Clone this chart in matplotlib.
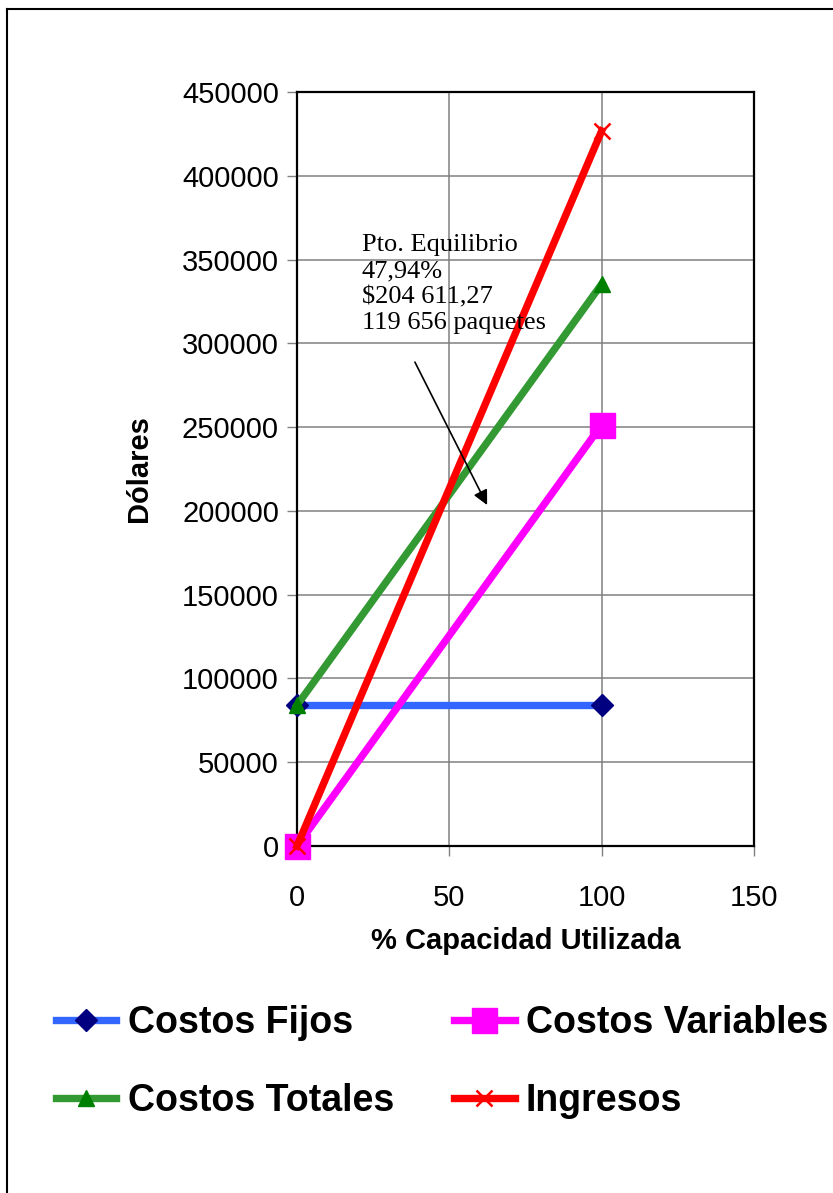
import numpy as np
import matplotlib
matplotlib.use("Agg")
import matplotlib.pyplot as plt
from matplotlib.lines import Line2D

plt.rcParams['font.family'] = ['Liberation Sans', 'DejaVu Sans']

# datos del punto de equilibrio
capacidad = [0, 100]
costos_fijos = [84000, 84000]
costos_variables = [0, 251400]
costos_totales = [84000, 335400]
ingresos = [0, 426807]

x_ticks = [0, 50, 100, 150]
y_ticks = [0, 50000, 100000, 150000, 200000, 250000, 300000, 350000, 400000, 450000]

texto_eq = "Pto. Equilibrio\n47,94%\n$204 611,27\n119 656 paquetes"

fig = plt.figure(figsize=(8.33, 11.93), dpi=100)
ax = fig.add_axes([297 / 833, 347 / 1193, 457 / 833, 754 / 1193])

lw = 5.3
ax.plot(capacidad, costos_fijos, color='#3366FF', lw=lw, marker='D', ms=11,
        mfc='#000080', mec='#000080', label='Costos Fijos', clip_on=False, zorder=3)
ax.plot(capacidad, costos_variables, color='#FF00FF', lw=lw, marker='s', ms=18,
        mfc='#FF00FF', mec='#FF00FF', label='Costos Variables', clip_on=False, zorder=4)
ax.plot(capacidad, costos_totales, color='#339933', lw=lw, marker='^', ms=11,
        mfc='#008000', mec='#008000', label='Costos Totales', clip_on=False, zorder=5)
ax.plot(capacidad, ingresos, color='#FF0000', lw=lw, marker='x', ms=11, mew=1.8,
        mec='#FF0000', label='Ingresos', clip_on=False, zorder=6)

ax.set_xlim(0, 150)
ax.set_ylim(0, 450000)
ax.set_xticks(x_ticks)
ax.set_yticks(y_ticks)
ax.grid(True, color='#808080', lw=1.1)
ax.set_axisbelow(True)
for s in ax.spines.values():
    s.set_color('black')
    s.set_linewidth(1.6)
ax.tick_params(axis='both', labelsize=21, length=7, width=1, color='#808080', direction='out')
ax.tick_params(axis='x', pad=20)
ax.tick_params(axis='y', pad=6)

ax.set_xlabel('% Capacidad Utilizada', fontsize=21, fontweight='bold', labelpad=11)
ax.set_ylabel('Dólares', fontsize=21, fontweight='bold', labelpad=21)

# anotación del punto de equilibrio
ax.text(21.3, 365000, texto_eq, fontsize=19, family=['Liberation Serif'],
        va='top', ha='left', linespacing=1.22, zorder=7)
ax.annotate('', xy=(62.4, 203500), xytext=(38.7, 288800),
            arrowprops=dict(arrowstyle='-|>', color='black', lw=1.2, mutation_scale=22,
                            shrinkA=0, shrinkB=0), zorder=7)

h, l = ax.get_legend_handles_labels()
orden = [0, 2, 1, 3]
fig.legend([h[i] for i in orden], [l[i] for i in orden], ncol=2, frameon=False,
           loc='upper left', bbox_to_anchor=(55.5 / 833, 1 - 1005 / 1193),
           prop={'size': 27, 'weight': 'bold'}, handlelength=1.62, handletextpad=0.3,
           columnspacing=1.6, labelspacing=1.12, borderpad=0, borderaxespad=0)

# marco exterior
fig.add_artist(Line2D([7 / 833, 7 / 833], [0, 1 - 9 / 1193], color='black', lw=1.5))
fig.add_artist(Line2D([7 / 833, 1], [1 - 9 / 1193, 1 - 9 / 1193], color='black', lw=1.5))

fig.savefig('out.png', dpi=100)
